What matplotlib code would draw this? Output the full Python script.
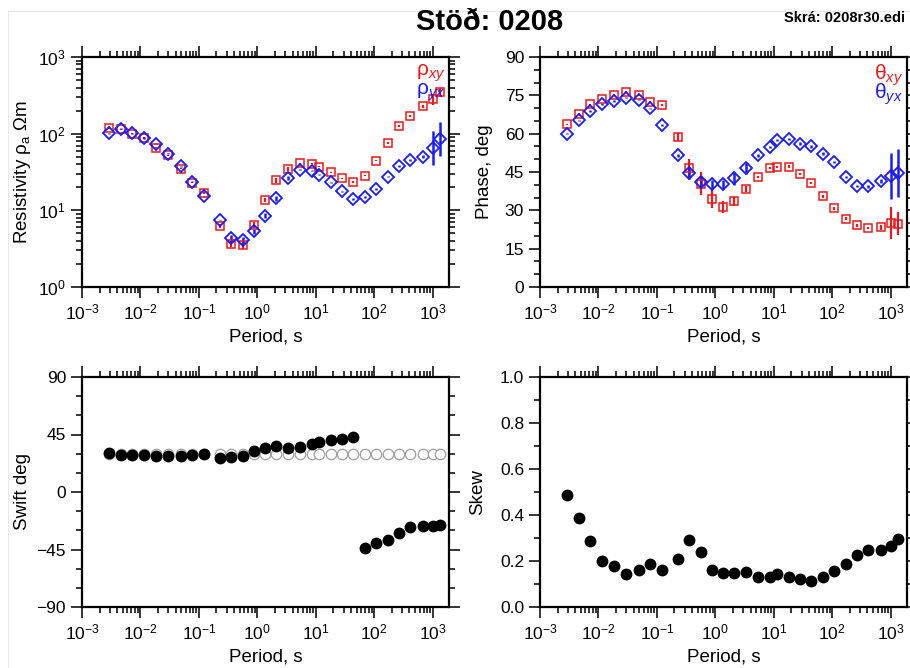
import matplotlib
matplotlib.use('Agg')
import matplotlib.pyplot as plt
import numpy as np
from matplotlib.ticker import LogLocator, MultipleLocator, NullFormatter, FixedLocator
from matplotlib.lines import Line2D

plt.rcParams['font.family'] = ['Liberation Sans', 'DejaVu Sans']
plt.rcParams['mathtext.fontset'] = 'custom'
plt.rcParams['mathtext.rm'] = 'Liberation Sans'
plt.rcParams['mathtext.it'] = 'Liberation Sans:italic'
plt.rcParams['mathtext.bf'] = 'Liberation Sans:bold'
plt.rcParams['axes.unicode_minus'] = True

# ---- data ----
period = [0.00293, 0.00469, 0.00703, 0.0114, 0.0185, 0.0298, 0.0485, 0.077,
          0.123, 0.229, 0.357, 0.56, 0.87, 1.35, 2.12, 3.36, 5.3, 8.5,
          11.4, 18.0, 27.7, 43.6, 69.0, 106.0, 169.0, 263.0, 415.0, 674.0,
          1000.0, 1350.0]

rho_xy = [117, 114, 100, 88, 66, 52, 35, 23, 16.8, 6.25, 3.67, 3.53, 6.5, 13.6,
          24.6, 34.6, 41, 40.6, 37.1, 31.3, 26.1, 23.4, 28.3, 44.5, 76, 125,
          170, 227, 281, 347]
rho_yx = [101, 116, 101, 88, 74, 55, 37.5, 23.7, 15.2, 7.4, 4.3, 4.06, 5.3, 8.5,
          14.3, 26.4, 33.9, 32.9, 29.2, 23.2, 17.7, 14.1, 14.9, 19.0, 27.5,
          37.9, 45.4, 50.1, 65, 85]
# error in log10 units
rho_xy_err = [0.01, 0.01, 0.01, 0.01, 0.01, 0.01, 0.01, 0.01, 0.01, 0.03, 0.04,
              0.05, 0.04, 0.03, 0.03, 0.02, 0.01, 0.01, 0.01, 0.01, 0.01, 0.01,
              0.01, 0.01, 0.01, 0.01, 0.01, 0.02, 0.07, 0.06]
rho_yx_err = [0.01, 0.01, 0.01, 0.01, 0.01, 0.01, 0.01, 0.01, 0.01, 0.01, 0.04,
              0.05, 0.03, 0.03, 0.03, 0.02, 0.01, 0.01, 0.01, 0.01, 0.01, 0.01,
              0.01, 0.01, 0.01, 0.01, 0.01, 0.02, 0.217, 0.226]

phi_xy = [63.6, 67.8, 71.5, 73.7, 75.3, 76.3, 75.0, 72.3, 71.3, 58.8, 46.4, 40.4,
          34.4, 31.3, 33.5, 38.5, 43.0, 46.6, 47.0, 47.1, 44.3, 40.7, 35.5, 30.8,
          26.7, 24.1, 23.1, 23.3, 25.0, 24.7]
phi_yx = [60.0, 65.2, 68.9, 71.7, 72.8, 74.1, 73.3, 69.9, 63.4, 51.5, 44.6, 41.1,
          40.2, 40.2, 42.5, 46.4, 51.5, 54.8, 57.6, 57.9, 56.1, 55.0, 52.2, 48.9,
          43.0, 39.5, 39.4, 41.5, 43.3, 44.7]
phi_xy_err = [0.3, 0.3, 0.3, 0.3, 0.3, 0.3, 0.3, 0.3, 0.3, 1.5, 3.5, 4.5, 3.5,
              2.5, 1.8, 1.2, 0.5, 0.5, 0.5, 0.5, 0.5, 0.5, 0.5, 0.5, 0.5, 0.5,
              0.5, 0.8, 6.3, 4.5]
phi_yx_err = [0.3, 0.3, 0.3, 0.3, 0.3, 0.3, 0.3, 0.3, 0.3, 0.5, 2.5, 2.5, 1.8,
              1.8, 2.5, 2.0, 0.5, 0.5, 0.5, 0.5, 0.5, 0.5, 0.5, 0.5, 0.5, 0.5,
              0.5, 0.8, 9.0, 9.4]

swift = [30.3, 29.3, 29.3, 29.3, 28.3, 28.3, 28.3, 28.8, 29.6, 26.4, 27.7, 28.3,
         32.2, 34.8, 35.8, 34.5, 35.3, 37.2, 39.2, 40.6, 41.3, 43.4, -44.0,
         -40.3, -37.4, -31.9, -27.7, -26.4, -26.7, -26.2]
strike = [29.6, 29.6, 29.6, 29.6, 29.6, 29.6, 29.6, 29.6, 29.6, 29.6, 29.6,
          29.6, 29.6, 29.6, 29.6, 29.6, 29.6, 29.6, 29.6, 29.6, 29.6, 29.6,
          29.6, 29.6, 29.6, 29.6, 29.6, 29.6, 29.6, 29.6]

skew = [0.488, 0.387, 0.289, 0.198, 0.177, 0.145, 0.16, 0.1875, 0.16, 0.208,
        0.29, 0.237, 0.16, 0.15, 0.15, 0.151, 0.129, 0.132, 0.145, 0.129,
        0.122, 0.113, 0.132, 0.156, 0.1875, 0.227, 0.249, 0.246, 0.265, 0.294]

station = 'Stöð: 0208'
filename = 'Skrá: 0208r30.edi'

T = np.array(period)
RED = '#f01818'
BLUE = '#1a1aff'

fig = plt.figure(figsize=(9.1, 6.68), dpi=100)
W, H = 910.0, 668.0


def make_ax(x0, y0, x1, y1):
    return fig.add_axes([x0 / W, 1 - y1 / H, (x1 - x0) / W, (y1 - y0) / H])


def style(ax, ylab, ylab_x):
    ax.set_xscale('log')
    ax.set_xlim(1e-3, 1.9e3)
    ax.xaxis.set_major_locator(LogLocator(base=10, numticks=20))
    ax.xaxis.set_minor_locator(LogLocator(base=10, subs=np.arange(2, 10), numticks=20))
    ax.xaxis.set_minor_formatter(NullFormatter())
    for s in ax.spines.values():
        s.set_linewidth(1.6)
    ax.tick_params(which='both', direction='out', top=True, right=True,
                   labeltop=False, labelright=False, width=1.1, colors='black',
                   labelsize=12.5)
    ax.tick_params(which='major', length=8)
    ax.tick_params(which='minor', length=4)
    ax.set_xlabel('Period, s', fontsize=13.5)
    ax.xaxis.label.set_va('center')
    ax.xaxis.set_label_coords(0.5, -0.219)
    ax.set_ylabel(ylab, fontsize=13.5)
    ax.yaxis.label.set_va('center')
    ax.yaxis.set_label_coords(ylab_x, 0.5)


# resistivity
ax1 = make_ax(82, 57, 449, 287)
style(ax1, r'Resistivity $\mathrm{ρ_a}$ Ωm', -0.163)
ax1.set_yscale('log')
ax1.set_ylim(1, 1000)
ax1.yaxis.set_major_locator(LogLocator(base=10, numticks=10))
ax1.yaxis.set_minor_locator(LogLocator(base=10, subs=np.arange(2, 10), numticks=10))
ax1.yaxis.set_minor_formatter(NullFormatter())
rx = np.array(rho_xy)
ry = np.array(rho_yx)
ex = np.array(rho_xy_err)
ey = np.array(rho_yx_err)
ax1.errorbar(T, rx, yerr=[rx - rx / 10 ** ex, rx * 10 ** ex - rx], fmt='s', ms=6,
             mfc='none', mec=RED, mew=1.1, ecolor=RED, elinewidth=1.6, capsize=0)
ax1.errorbar(T, ry, yerr=[ry - ry / 10 ** ey, ry * 10 ** ey - ry], fmt='D', ms=6,
             mfc='none', mec=BLUE, mew=1.3, ecolor=BLUE, elinewidth=1.8, capsize=0)
ax1.text(0.99, 0.975, r'$\mathrm{ρ}_{xy}$', color=RED, fontsize=15,
         transform=ax1.transAxes, ha='right', va='top')
ax1.text(0.99, 0.895, r'$\mathrm{ρ}_{yx}$', color=BLUE, fontsize=15,
         transform=ax1.transAxes, ha='right', va='top')

# phase
ax2 = make_ax(540, 57, 907, 287)
style(ax2, 'Phase, deg', -0.15)
ax2.set_ylim(0, 90)
ax2.yaxis.set_major_locator(MultipleLocator(15))
ax2.yaxis.set_minor_locator(MultipleLocator(5))
ax2.errorbar(T, phi_xy, yerr=phi_xy_err, fmt='s', ms=6, mfc='none', mec=RED,
             mew=1.1, ecolor=RED, elinewidth=1.6, capsize=0)
ax2.errorbar(T, phi_yx, yerr=phi_yx_err, fmt='D', ms=6, mfc='none', mec=BLUE,
             mew=1.3, ecolor=BLUE, elinewidth=1.8, capsize=0)
ax2.text(0.99, 0.975, r'$\mathrm{θ}_{xy}$', color=RED, fontsize=15,
         transform=ax2.transAxes, ha='right', va='top')
ax2.text(0.99, 0.895, r'$\mathrm{θ}_{yx}$', color=BLUE, fontsize=15,
         transform=ax2.transAxes, ha='right', va='top')

# swift
ax3 = make_ax(82, 377, 449, 607)
style(ax3, 'Swift deg', -0.163)
ax3.set_ylim(-90, 90)
ax3.yaxis.set_major_locator(FixedLocator([-90, -45, 0, 45, 90]))
ax3.yaxis.set_minor_locator(MultipleLocator(15))
ax3.plot(T, strike, 'o', ms=7.5, mfc='white', mec='#a0a0a0', mew=0.9, ls='none')
ax3.plot(T, swift, 'o', ms=7.5, color='black', ls='none')

# skew
ax4 = make_ax(540, 377, 907, 607)
style(ax4, 'Skew', -0.169)
ax4.set_ylim(0, 1)
ax4.yaxis.set_major_locator(MultipleLocator(0.2))
ax4.yaxis.set_minor_locator(MultipleLocator(0.1))
ax4.yaxis.set_major_formatter(matplotlib.ticker.FormatStrFormatter('%.1f'))
ax4.plot(T, skew, 'o', ms=7.5, color='black', ls='none')

fig.text(490 / W, 1 - 22 / H, station, fontsize=21, fontweight='bold',
         ha='center', va='center')
fig.text(905 / W, 1 - 18 / H, filename, fontsize=10.5, fontweight='bold',
         ha='right', va='center')

# faint frame of the original page
fig.add_artist(Line2D([8 / W, 1], [1 - 11 / H, 1 - 11 / H], color='#e8e8e8', lw=0.8))
fig.add_artist(Line2D([8 / W, 8 / W], [0, 1 - 11 / H], color='#e8e8e8', lw=0.8))

fig.savefig('out.png', dpi=100)
